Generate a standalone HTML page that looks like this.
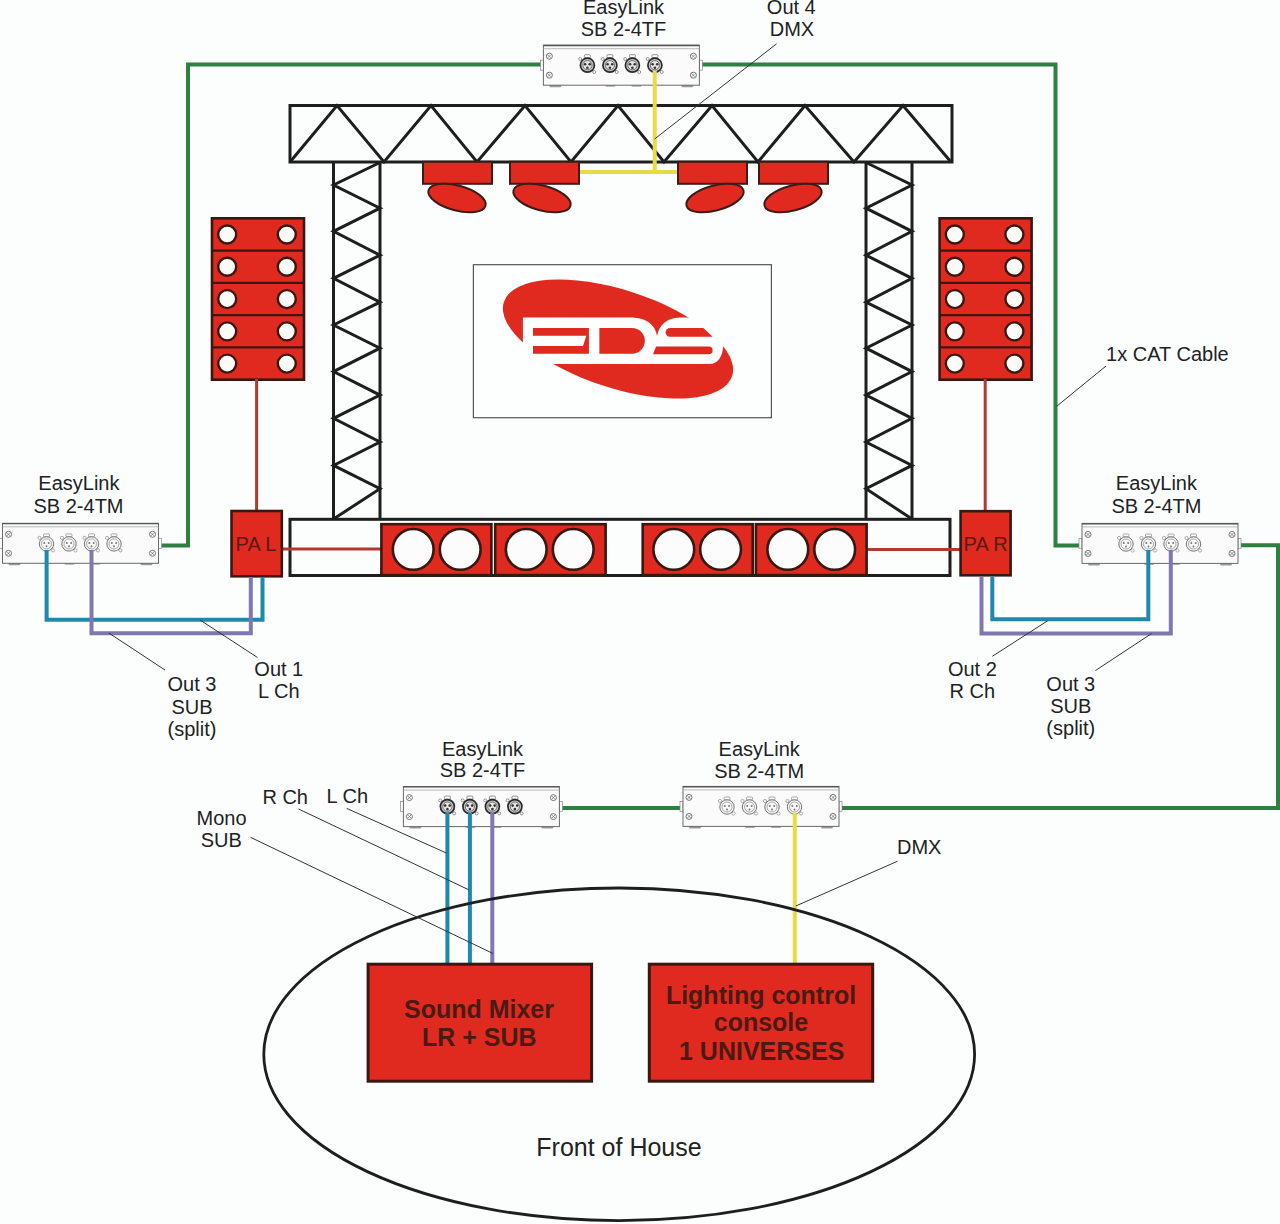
<!DOCTYPE html>
<html><head><meta charset="utf-8">
<style>
html,body{margin:0;padding:0;background:#fcfefe;}
svg{display:block;}
text{font-family:"Liberation Sans",sans-serif;}
</style></head>
<body>
<svg width="1280" height="1224" viewBox="0 0 1280 1224">
<defs>
  <g id="screw"><circle r="3" fill="#fff" stroke="#666" stroke-width="0.9"/><path d="M-1.6,-1.6L1.6,1.6M1.6,-1.6L-1.6,1.6" stroke="#666" stroke-width="0.7"/></g>
  <g id="xf">
    <rect x="-3" y="-10.5" width="6" height="3" rx="1" fill="#fff" stroke="#666" stroke-width="0.7"/>
    <circle cx="-7.2" cy="-6.2" r="1.5" fill="#fff" stroke="#555" stroke-width="0.6"/>
    <circle cx="6.8" cy="6.8" r="1.5" fill="#fff" stroke="#555" stroke-width="0.6"/>
    <circle r="7" fill="#c8c8c8" stroke="#2a2a2a" stroke-width="1.7"/>
    <circle r="4.6" fill="#e6e6e6" stroke="#555" stroke-width="0.8"/>
    <circle cx="-2.3" cy="-1" r="1.3" fill="#333"/><circle cx="2.3" cy="-1" r="1.3" fill="#333"/><circle cx="0" cy="2.5" r="1.3" fill="#333"/>
  </g>
  <g id="xm">
    <rect x="-3" y="-10" width="6" height="3" rx="1" fill="#fff" stroke="#888" stroke-width="0.7"/>
    <circle cx="-7" cy="-6" r="1.6" fill="#fff" stroke="#777" stroke-width="0.6"/>
    <circle cx="6.5" cy="6.5" r="1.6" fill="#fff" stroke="#777" stroke-width="0.6"/>
    <circle r="7.2" fill="#f6f6f6" stroke="#666" stroke-width="0.9"/>
    <circle r="5" fill="#fafafa" stroke="#888" stroke-width="0.7"/>
    <circle cx="-2.2" cy="-1" r="1" fill="#777"/><circle cx="2.2" cy="-1" r="1" fill="#777"/><circle cx="0" cy="2.4" r="1" fill="#777"/>
  </g>
  <g id="boxbase">
    <rect x="-3" y="15" width="3" height="10" fill="#fff" stroke="#888" stroke-width="0.7"/>
    <rect x="156" y="15" width="3" height="10" fill="#fff" stroke="#888" stroke-width="0.7"/>
    <rect x="6" y="39" width="12" height="3" rx="1.5" fill="#999"/>
    <rect x="62" y="39" width="10" height="2.5" rx="1.2" fill="#aaa"/>
    <rect x="88" y="39" width="10" height="2.5" rx="1.2" fill="#aaa"/>
    <rect x="138" y="39" width="12" height="3" rx="1.5" fill="#999"/>
    <rect x="0" y="0" width="156" height="40" fill="#fbfbfb" stroke="#6a6a6a" stroke-width="1"/>
    <line x1="0" y1="0.3" x2="156" y2="0.3" stroke="#555" stroke-width="1.4"/>
    <line x1="0" y1="3.5" x2="156" y2="3.5" stroke="#aaa" stroke-width="0.8"/>
    <use href="#screw" x="6" y="11"/><use href="#screw" x="6" y="30"/>
    <use href="#screw" x="150" y="11"/><use href="#screw" x="150" y="30"/>
  </g>
  <g id="boxTF">
    <use href="#boxbase"/>
    <use href="#xf" x="44" y="20"/><use href="#xf" x="66.5" y="20"/><use href="#xf" x="89" y="20"/><use href="#xf" x="111.5" y="20"/>
  </g>
  <g id="boxTM">
    <use href="#boxbase"/>
    <use href="#xm" x="44" y="20.6"/><use href="#xm" x="66.5" y="20.6"/><use href="#xm" x="89" y="20.6"/><use href="#xm" x="111.5" y="20.6"/>
  </g>
  <g id="stack">
    <rect x="0" y="0" width="92" height="161.4" fill="#e02a1f" stroke="#3a1711" stroke-width="2.6"/>
    <path d="M0,32.3H92M0,64.6H92M0,96.8H92M0,129.1H92" stroke="#3a1711" stroke-width="2.4"/>
    <g fill="#fbfbf8" stroke="#3a1711" stroke-width="2.4">
      <circle cx="15.2" cy="16.2" r="9"/><circle cx="74.8" cy="16.2" r="9"/>
      <circle cx="15.2" cy="48.5" r="9"/><circle cx="74.8" cy="48.5" r="9"/>
      <circle cx="15.2" cy="80.8" r="9"/><circle cx="74.8" cy="80.8" r="9"/>
      <circle cx="15.2" cy="113.1" r="9"/><circle cx="74.8" cy="113.1" r="9"/>
      <circle cx="15.2" cy="145.3" r="9"/><circle cx="74.8" cy="145.3" r="9"/>
    </g>
  </g>
</defs>

<rect x="0" y="0" width="1280" height="1224" fill="#fcfefe"/>

<!-- green CAT cables -->
<g fill="none" stroke="#2e7f42" stroke-width="4" stroke-linejoin="miter">
  <path d="M543,64.5H188V545.4H159"/>
  <path d="M699,64.5H1055.5V545.6H1082"/>
  <path d="M1238,545.3H1278V808H839"/>
  <path d="M683,808H559"/>
</g>

<!-- top truss -->
<g fill="none" stroke="#1e1e1e" stroke-width="3" stroke-linejoin="miter">
  <rect x="290" y="105.5" width="662" height="56.5" fill="#fcfefe"/>
  <polyline points="290,162 337,105.5 384,162 431,105.5 477,162 525,105.5 571,162 618,105.5 664,162 712,105.5 758,162 805,105.5 854,162 903,105.5 951,162"/>
  <path d="M333.5,162V519M380,162V519M866,162V519M912,162V519"/>
  <polyline points="380,162.5 333.5,185 380,208.2 333.5,231.3 380,255.2 333.5,278.3 380,302.2 333.5,325 380,348.2 333.5,371.6 380,395.1 333.5,418.3 380,442 333.5,465.4 380,488.7 333.5,519"/>
  <polyline points="866,162.5 912,185 866,208.2 912,231.3 866,255.2 912,278.3 866,302.2 912,325 866,348.2 912,371.6 866,395.1 912,418.3 866,442 912,465.4 866,488.7 912,519"/>
  <rect x="290" y="519.3" width="660" height="56.2"/>
</g>

<!-- lights -->
<g fill="#e02a1f" stroke="#3b1c19" stroke-width="2">
  <rect x="423" y="161.8" width="69" height="22"/>
  <rect x="510" y="161.8" width="69" height="22"/>
  <rect x="678" y="161.8" width="69" height="22"/>
  <rect x="759" y="161.8" width="69" height="22"/>
  <ellipse cx="0" cy="0" rx="29.5" ry="12.5" transform="translate(457,198) rotate(15)"/>
  <ellipse cx="0" cy="0" rx="29.5" ry="12.5" transform="translate(542,198) rotate(15)"/>
  <ellipse cx="0" cy="0" rx="29.5" ry="12.5" transform="translate(715,198) rotate(-15)"/>
  <ellipse cx="0" cy="0" rx="29.5" ry="12.5" transform="translate(793,198) rotate(-15)"/>
</g>

<!-- speaker stacks -->
<use href="#stack" x="212" y="218.3"/>
<use href="#stack" x="939.6" y="218.3"/>

<!-- screen -->
<rect x="473.4" y="264.7" width="298" height="153" fill="#fdfefe" stroke="#555" stroke-width="1.2"/>
<g id="eds">
  <ellipse cx="0" cy="0" rx="120" ry="49" fill="#e02a1f" transform="translate(618,339) rotate(18)"/>
  <path d="M522.9,317.6H630C648,317.6 655.5,326 657,336C659,326 666,317.6 680,317.6H740V346H723C723,357 717,364.1 710,364.1H522.9Z" fill="#fdfefe"/>
  <g fill="#e02a1f">
    <path d="M533,328H588.9V353.8H533V346.1H583L586.3,335.8H533Z"/>
    <path d="M599.4,328H632A12.85,12.85 0 0 1 632,353.7H599.4Z"/>
    <path d="M670,328H703.3L712.6,336.7H670A4.35,4.35 0 0 1 670,328Z"/>
    <path d="M656,346.6H708.8A3.8,3.8 0 0 1 708.8,354.2H653Z"/>
  </g>
</g>

<!-- red PA cables -->
<g fill="none" stroke="#b03a32" stroke-width="3">
  <path d="M256.6,379V511M985.2,379V511"/>
  <path d="M281,549H382M866,549.4H961"/>
</g>

<!-- platform speakers -->
<g stroke="#3a1711" stroke-width="2.6">
  <rect x="381.4" y="524.2" width="110" height="50.9" fill="#e02a1f"/>
  <rect x="495.2" y="524.2" width="110.4" height="50.9" fill="#e02a1f"/>
  <rect x="642.7" y="524.2" width="110" height="50.9" fill="#e02a1f"/>
  <rect x="755.9" y="524.2" width="110.7" height="50.9" fill="#e02a1f"/>
  <g fill="#fbfcfb">
    <circle cx="413.2" cy="549.4" r="20.4"/><circle cx="460.2" cy="549.4" r="20.4"/>
    <circle cx="526.2" cy="549.4" r="20.4"/><circle cx="573.2" cy="549.4" r="20.4"/>
    <circle cx="673.8" cy="549.4" r="20.4"/><circle cx="720.6" cy="549.4" r="20.4"/>
    <circle cx="787.8" cy="549.4" r="20.4"/><circle cx="834.7" cy="549.4" r="20.4"/>
  </g>
</g>

<!-- PA boxes -->
<g fill="#e02a1f" stroke="#3a1711" stroke-width="2.6">
  <rect x="231.5" y="511" width="50.3" height="65.3"/>
  <rect x="960.6" y="511.2" width="50" height="64.1"/>
</g>
<g fill="#5a1a16" font-size="20" text-anchor="middle">
  <text x="256" y="550.8">PA L</text>
  <text x="985.6" y="551.2">PA R</text>
</g>

<!-- EasyLink boxes -->
<use href="#boxTF" x="543.4" y="45.2"/>
<use href="#boxTM" x="2.5" y="523.3"/>
<use href="#boxTM" x="1082" y="523.4"/>
<use href="#boxTF" x="403.4" y="786.6"/>
<use href="#boxTM" x="683" y="786.4"/>

<!-- cables over boxes -->
<g fill="none" stroke="#e6dc45" stroke-width="4">
  <path d="M654.7,71V172M580,172H677"/>
  <path d="M794.8,813V963"/>
</g>
<g fill="none" stroke="#1e88ad" stroke-width="4">
  <path d="M46.6,550V619.7H262.5V577"/>
  <path d="M992.3,577V619.3H1148.3V550"/>
  <path d="M447.4,813V963M469.9,813V963"/>
</g>
<g fill="none" stroke="#8076b2" stroke-width="4">
  <path d="M91.5,550V633.3H250.8V577"/>
  <path d="M981.5,577V633.5H1170.8V550"/>
  <path d="M492.3,813V963"/>
</g>

<!-- FOH -->
<ellipse cx="619.2" cy="1054.3" rx="355.4" ry="166.3" fill="none" stroke="#1e1e1e" stroke-width="2.8"/>
<g fill="#e02a1f" stroke="#3a1711" stroke-width="3">
  <rect x="368.1" y="964.2" width="223.5" height="117"/>
  <rect x="649.3" y="964.2" width="223.4" height="117"/>
</g>
<g fill="#4a1a14" font-size="25" font-weight="bold" text-anchor="middle">
  <text x="479" y="1018.2">Sound Mixer</text>
  <text x="479.2" y="1046.3">LR + SUB</text>
  <text x="761" y="1003.6">Lighting control</text>
  <text x="761" y="1031.3">console</text>
  <text x="761.7" y="1059.7">1 UNIVERSES</text>
</g>

<!-- callout lines -->
<g stroke="#333" stroke-width="1" fill="none">
  <path d="M776.6,43.8L654.6,139"/>
  <path d="M1106,366L1056.4,406.5"/>
  <path d="M108.8,633L165,670"/>
  <path d="M200,620L257.5,657.5"/>
  <path d="M992.3,656.3L1047.6,620.8"/>
  <path d="M1095.4,670.6L1151.5,633.6"/>
  <path d="M346.7,808.4L446.4,853"/>
  <path d="M298.6,809L468.8,889.8"/>
  <path d="M250.5,837.3L492.8,953.4"/>
  <path d="M897.6,861.2L795.8,906"/>
</g>

<!-- labels -->
<g fill="#222" font-size="20" text-anchor="middle">
  <text x="623.5" y="14.2">EasyLink</text><text x="623.5" y="36.1">SB 2-4TF</text>
  <text x="791.3" y="14.2">Out 4</text><text x="792" y="36.1">DMX</text>
  <text x="1167.4" y="361.4">1x CAT Cable</text>
  <text x="78.9" y="489.7">EasyLink</text><text x="78.5" y="512.8">SB 2-4TM</text>
  <text x="1156.4" y="490">EasyLink</text><text x="1156.4" y="512.5">SB 2-4TM</text>
  <text x="192" y="691.3">Out 3</text><text x="192" y="713.8">SUB</text><text x="192" y="736">(split)</text>
  <text x="278.8" y="676.3">Out 1</text><text x="278.8" y="698">L Ch</text>
  <text x="972.4" y="676">Out 2</text><text x="972.4" y="698">R Ch</text>
  <text x="1070.8" y="690.5">Out 3</text><text x="1070.8" y="713">SUB</text><text x="1070.8" y="734.8">(split)</text>
  <text x="482.5" y="755.8">EasyLink</text><text x="482.5" y="777.1">SB 2-4TF</text>
  <text x="759.2" y="755.9">EasyLink</text><text x="759.2" y="777.8">SB 2-4TM</text>
  <text x="285.2" y="803.9">R Ch</text>
  <text x="347.3" y="803.2">L Ch</text>
  <text x="221.6" y="824.5">Mono</text><text x="221.3" y="846.9">SUB</text>
  <text x="919.2" y="854">DMX</text>
  <text x="619" y="1155.9" font-size="25">Front of House</text>
</g>
</svg>
</body></html>
